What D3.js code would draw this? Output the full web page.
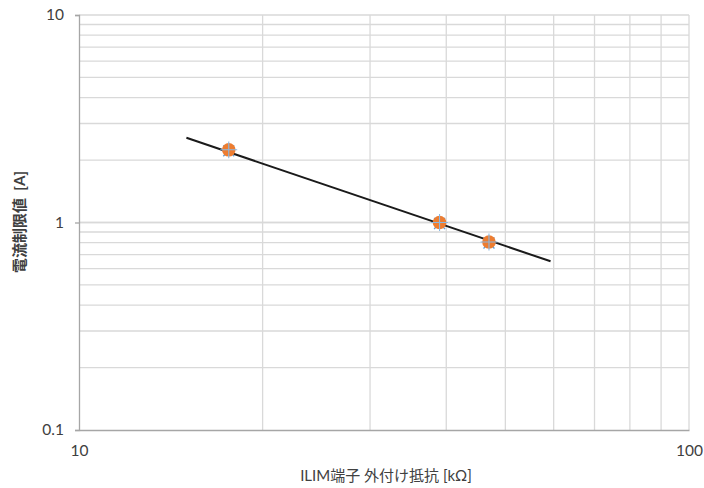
<!DOCTYPE html>
<html>
<head>
<meta charset="utf-8">
<script src="https://cdn.jsdelivr.net/npm/d3@7"></script>
<style>
  html, body { margin: 0; padding: 0; background: #fff; }
  svg { display: block; }
  text { font-family: Lato, "Noto Sans CJK JP", sans-serif; fill: #404040; }
</style>
</head>
<body>
<svg id="chart" width="704" height="488"></svg>
<script>
// Measured limit current vs. external ILIM resistor
const resistanceK = [17.6, 39, 47];
const limitCurrentA = [2.24, 1.0, 0.805];

// Power-law trend line end points
const trendResistanceK = [15, 59.3];
const trendCurrentA = [2.56, 0.65];

const xTickLabels = ["10", "100"];
const yTickLabels = ["0.1", "1", "10"];
const xTitle = "ILIM端子 外付け抵抗 [kΩ]";
const yTitle = "電流制限値  [A]";

const svg = d3.select("#chart");
const plot = { left: 79, right: 689, top: 15, bottom: 430 };

const x = d3.scaleLog().domain([10, 100]).range([plot.left, plot.right]);
const y = d3.scaleLog().domain([0.1, 10]).range([plot.bottom, plot.top]);

// Minor + major grid values
const xGrid = d3.range(2, 11).map(d => d * 10);
const yGrid = [];
[0.1, 1].forEach(base => d3.range(1, 11).forEach(k => yGrid.push(+(base * k).toFixed(3))));

const grid = svg.append("g");
grid.selectAll("line.v").data(xGrid).join("line").attr("class", "v")
  .attr("x1", d => x(d)).attr("x2", d => x(d))
  .attr("y1", plot.top).attr("y2", plot.bottom)
  .attr("stroke", "#d9d9d9").attr("stroke-width", 1.3);
grid.selectAll("line.h").data(yGrid.filter(d => d > 0.1)).join("line").attr("class", "h")
  .attr("x1", plot.left).attr("x2", plot.right)
  .attr("y1", d => y(d)).attr("y2", d => y(d))
  .attr("stroke", "#d9d9d9").attr("stroke-width", 1.3);

// Axes
const yAxis = d3.axisLeft(y)
  .tickValues(yTickLabels.map(Number))
  .tickFormat((d, i) => yTickLabels[i])
  .tickSize(4).tickPadding(11);
const gy = svg.append("g").attr("transform", `translate(${plot.left},0)`).call(yAxis);
gy.select(".domain").attr("stroke", "#a6a6a6").attr("stroke-width", 1.3);
gy.selectAll(".tick line").attr("stroke", "#a6a6a6").attr("stroke-width", 1.3);
gy.selectAll(".tick text").attr("font-size", 15.5).attr("fill", "#404040")
  .style("font-family", "Lato, sans-serif");

const xAxis = d3.axisBottom(x)
  .tickValues(xTickLabels.map(Number))
  .tickFormat((d, i) => xTickLabels[i])
  .tickSize(0).tickPadding(15);
const gx = svg.append("g").attr("transform", `translate(0,${plot.bottom})`).call(xAxis);
gx.select(".domain").attr("stroke", "#a6a6a6").attr("stroke-width", 1.3);
gx.selectAll(".tick text").attr("font-size", 15.5).attr("fill", "#404040")
  .style("font-family", "Lato, sans-serif");

// Trend line
const line = d3.line().x(d => x(d[0])).y(d => y(d[1]));
svg.append("path")
  .datum(d3.zip(trendResistanceK, trendCurrentA))
  .attr("d", line)
  .attr("fill", "none").attr("stroke", "#1a1a1a").attr("stroke-width", 2);

// Data markers
const pts = d3.zip(resistanceK, limitCurrentA);
const marks = svg.append("g").selectAll("g").data(pts).join("g")
  .attr("transform", d => `translate(${x(d[0])},${y(d[1])})`);
marks.append("path")
  .attr("d", d3.symbol().type(d3.symbolTimes).size(80)())
  .attr("stroke", "#5b9bd5").attr("stroke-width", 1.3).attr("fill", "none")
  .attr("transform", "translate(0,1)");
marks.append("circle").attr("r", 6.8).attr("fill", "#ed7d31");
marks.append("path")
  .attr("d", d3.symbol().type(d3.symbolPlus).size(95)())
  .attr("stroke", "#8ab8e2").attr("stroke-width", 1.1).attr("fill", "none");

// Axis titles
svg.append("text")
  .attr("x", 386).attr("y", 481)
  .attr("text-anchor", "middle").attr("font-size", 15)
  .text(xTitle);
svg.append("text")
  .attr("transform", "translate(25,222) rotate(-90)")
  .attr("text-anchor", "middle").attr("font-size", 15).attr("font-weight", "bold")
  .style("white-space", "pre")
  .text(yTitle);
</script>
</body>
</html>
